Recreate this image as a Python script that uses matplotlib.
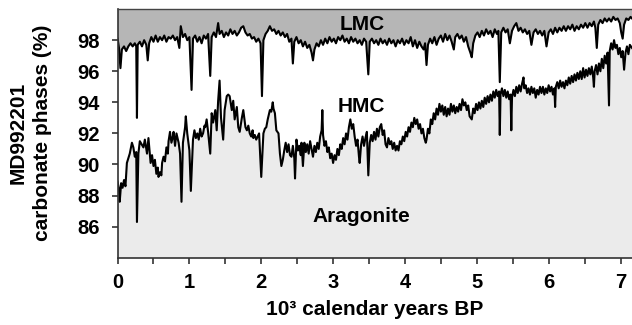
import matplotlib
matplotlib.use("Agg")
import matplotlib.pyplot as plt
from matplotlib.ticker import MultipleLocator

plt.rcParams["font.family"] = ["Liberation Sans", "DejaVu Sans"]
plt.rcParams["font.weight"] = "bold"

# --- LMC / HMC boundary (top line) -----------------------------------------
lmc_x = [0.00, 0.02, 0.04, 0.06, 0.09, 0.12, 0.15, 0.18, 0.21, 0.24, 0.26, 0.27,
         0.28, 0.31, 0.34, 0.37, 0.40, 0.42, 0.44, 0.47, 0.50, 0.53, 0.56, 0.59,
         0.62, 0.65, 0.68, 0.71, 0.74, 0.77, 0.80, 0.83, 0.86, 0.88, 0.91, 0.94,
         0.97, 1.00, 1.03, 1.05, 1.08, 1.11, 1.14, 1.17, 1.20, 1.23, 1.26, 1.29,
         1.31, 1.34, 1.37, 1.40, 1.42, 1.45, 1.48, 1.51, 1.54, 1.57, 1.60, 1.63,
         1.66, 1.69, 1.72, 1.75, 1.78, 1.81, 1.84, 1.87, 1.90, 1.93, 1.96, 1.99,
         2.01, 2.03, 2.06, 2.09, 2.12, 2.15, 2.18, 2.21, 2.24, 2.27, 2.30, 2.33,
         2.36, 2.39, 2.42, 2.44, 2.46, 2.49, 2.52, 2.55, 2.58, 2.61, 2.64, 2.67,
         2.70, 2.72, 2.74, 2.77, 2.80, 2.83, 2.86, 2.89, 2.92, 2.95, 2.98, 3.01,
         3.04, 3.07, 3.10, 3.13, 3.16, 3.19, 3.22, 3.25, 3.28, 3.31, 3.34, 3.37,
         3.40, 3.43, 3.46, 3.49, 3.51, 3.54, 3.57, 3.60, 3.63, 3.66, 3.69, 3.72,
         3.75, 3.78, 3.81, 3.84, 3.87, 3.90, 3.93, 3.96, 3.99, 4.02, 4.05, 4.08,
         4.11, 4.14, 4.17, 4.20, 4.23, 4.26, 4.28, 4.30, 4.32, 4.35, 4.38, 4.41,
         4.44, 4.47, 4.50, 4.53, 4.56, 4.59, 4.62, 4.65, 4.68, 4.70, 4.73, 4.76,
         4.79, 4.82, 4.85, 4.88, 4.91, 4.93, 4.95, 4.98, 5.01, 5.04, 5.07, 5.10,
         5.13, 5.16, 5.19, 5.22, 5.25, 5.28, 5.30, 5.32, 5.34, 5.37, 5.40, 5.43,
         5.46, 5.49, 5.52, 5.55, 5.58, 5.61, 5.64, 5.67, 5.70, 5.73, 5.76, 5.79,
         5.82, 5.85, 5.88, 5.91, 5.94, 5.97, 6.00, 6.03, 6.06, 6.09, 6.12, 6.15,
         6.18, 6.21, 6.24, 6.27, 6.30, 6.33, 6.36, 6.39, 6.42, 6.45, 6.48, 6.51,
         6.54, 6.57, 6.60, 6.63, 6.65, 6.67, 6.69, 6.72, 6.75, 6.78, 6.81, 6.84,
         6.87, 6.90, 6.93, 6.96, 6.99, 7.01, 7.03, 7.05, 7.08, 7.11, 7.14, 7.16]
lmc_y = [98.1, 97.5, 96.2, 97.4, 97.6, 97.3, 97.6, 97.8, 97.6, 97.8, 97.6, 93.0,
         97.7, 97.9, 97.6, 98.0, 97.7, 96.7, 97.8, 98.2, 97.9, 98.3, 97.9, 98.2,
         98.0, 98.3, 97.9, 98.2, 98.1, 98.3, 98.0, 98.2, 97.5, 98.9, 98.2, 98.4,
         98.0, 98.2, 94.8, 98.1, 98.3, 97.9, 98.2, 97.8, 98.3, 98.1, 98.4, 95.7,
         98.2, 98.5, 98.2, 99.1, 98.4, 98.6, 98.2, 98.5, 98.3, 98.7, 98.4, 98.6,
         98.3, 98.5, 98.8, 98.9, 98.5, 98.3, 98.4, 98.1, 98.2, 97.9, 98.1, 97.8,
         94.4, 98.0, 98.4, 98.6, 98.9, 98.6, 98.7, 98.4, 98.6, 98.3, 98.5, 98.2,
         98.4, 97.9, 98.1, 96.5, 97.9, 98.2, 97.8, 98.0, 97.6, 97.9, 97.5, 97.7,
         97.2, 96.7, 97.4, 97.8, 97.6, 98.0, 97.7, 98.1, 97.8, 98.2, 97.9, 98.1,
         97.8, 98.2, 98.0, 98.3, 97.9, 98.1, 97.8, 98.2, 97.9, 98.1, 97.8, 98.0,
         97.7, 98.1, 97.9, 95.8, 97.9, 98.1, 97.8, 98.0, 97.7, 98.1, 97.8, 98.0,
         97.7, 98.1, 97.8, 98.0, 97.6, 98.0, 97.8, 98.1, 97.7, 98.0, 97.8, 98.2,
         97.6, 98.0, 97.5, 97.9, 97.6, 97.4, 97.8, 96.4, 97.7, 98.1, 97.8, 98.2,
         97.7, 98.1, 98.3, 97.9, 98.4, 98.0, 98.3, 97.9, 97.4, 98.2, 98.4, 98.1,
         98.3, 97.9, 98.2, 97.6, 97.2, 96.9, 97.8, 98.3, 98.5, 98.2, 98.6, 98.3,
         98.7, 98.4, 98.6, 98.2, 98.7, 98.4, 98.6, 95.3, 98.5, 98.8, 98.5, 98.7,
         97.8, 98.6, 98.9, 99.1, 98.6, 98.8, 98.5, 98.7, 98.4, 98.6, 97.7, 98.5,
         98.7, 98.4, 98.6, 98.3, 98.6, 97.6, 98.5, 98.7, 98.4, 98.8, 98.5, 98.8,
         98.6, 98.9, 98.6, 98.9, 98.7, 99.0, 98.6, 98.9, 98.7, 99.0, 98.8, 99.1,
         98.8, 99.1, 98.9, 99.2, 98.8, 97.5, 99.0, 99.3, 99.1, 99.4, 99.2, 99.4,
         99.2, 99.5, 99.3, 99.4, 99.1, 98.5, 98.1, 99.0, 99.4, 99.3, 99.5, 99.4]

# --- HMC / Aragonite boundary (lower line) ---------------------------------
hmc_x = [0.00, 0.02, 0.03, 0.05, 0.07, 0.09, 0.11, 0.13, 0.17, 0.20, 0.22, 0.24,
         0.26, 0.27, 0.29, 0.31, 0.36, 0.38, 0.41, 0.43, 0.45, 0.46, 0.48, 0.50,
         0.52, 0.54, 0.56, 0.57, 0.59, 0.61, 0.62, 0.64, 0.66, 0.68, 0.70, 0.71,
         0.73, 0.75, 0.77, 0.78, 0.80, 0.82, 0.84, 0.85, 0.87, 0.89, 0.91, 0.94,
         0.95, 0.97, 1.00, 1.02, 1.05, 1.07, 1.09, 1.11, 1.13, 1.15, 1.17, 1.19,
         1.21, 1.22, 1.24, 1.26, 1.29, 1.31, 1.33, 1.36, 1.38, 1.40, 1.42, 1.44,
         1.47, 1.49, 1.52, 1.54, 1.56, 1.59, 1.61, 1.63, 1.66, 1.68, 1.70, 1.72,
         1.73, 1.75, 1.77, 1.78, 1.80, 1.82, 1.84, 1.86, 1.88, 1.89, 1.91, 1.93,
         1.95, 1.97, 2.00, 2.03, 2.05, 2.07, 2.09, 2.12, 2.14, 2.16, 2.17, 2.19,
         2.21, 2.24, 2.26, 2.28, 2.30, 2.32, 2.34, 2.36, 2.38, 2.40, 2.42, 2.44,
         2.46, 2.47, 2.49, 2.51, 2.53, 2.55, 2.56, 2.58, 2.60, 2.62, 2.64, 2.66,
         2.68, 2.70, 2.72, 2.74, 2.76, 2.78, 2.80, 2.82, 2.84, 2.85, 2.86, 2.88,
         2.90, 2.92, 2.94, 2.96, 2.98, 3.00, 3.02, 3.04, 3.06, 3.08, 3.10, 3.12,
         3.14, 3.16, 3.18, 3.20, 3.22, 3.24, 3.26, 3.28, 3.30, 3.32, 3.34, 3.36,
         3.37, 3.39, 3.41, 3.43, 3.45, 3.47, 3.49, 3.51, 3.53, 3.55, 3.57, 3.59,
         3.61, 3.63, 3.65, 3.67, 3.69, 3.71, 3.73, 3.75, 3.77, 3.79, 3.81, 3.83,
         3.85, 3.87, 3.89, 3.91, 3.93, 3.95, 3.97, 3.99, 4.01, 4.03, 4.05, 4.07,
         4.09, 4.11, 4.13, 4.15, 4.17, 4.19, 4.21, 4.23, 4.25, 4.27, 4.29, 4.30,
         4.32, 4.34, 4.36, 4.38, 4.40, 4.42, 4.44, 4.46, 4.48, 4.50, 4.52, 4.54,
         4.56, 4.58, 4.60, 4.62, 4.64, 4.66, 4.68, 4.70, 4.72, 4.74, 4.76, 4.78,
         4.80, 4.82, 4.84, 4.86, 4.88, 4.90, 4.93, 4.95, 4.97, 4.99, 5.01, 5.03,
         5.05, 5.07, 5.09, 5.11, 5.13, 5.15, 5.17, 5.19, 5.21, 5.23, 5.25, 5.27,
         5.29, 5.31, 5.32, 5.33, 5.35, 5.37, 5.39, 5.41, 5.43, 5.45, 5.47, 5.48,
         5.49, 5.51, 5.53, 5.55, 5.57, 5.59, 5.61, 5.63, 5.65, 5.66, 5.68, 5.70,
         5.72, 5.74, 5.76, 5.78, 5.80, 5.82, 5.84, 5.86, 5.88, 5.90, 5.92, 5.94,
         5.96, 5.98, 6.00, 6.02, 6.04, 6.06, 6.08, 6.09, 6.10, 6.12, 6.14, 6.16,
         6.18, 6.20, 6.22, 6.24, 6.26, 6.28, 6.30, 6.32, 6.34, 6.36, 6.38, 6.40,
         6.42, 6.44, 6.46, 6.48, 6.50, 6.52, 6.54, 6.56, 6.58, 6.60, 6.62, 6.63,
         6.64, 6.66, 6.68, 6.70, 6.72, 6.74, 6.76, 6.78, 6.80, 6.82, 6.84, 6.85,
         6.87, 6.89, 6.91, 6.93, 6.95, 6.97, 6.99, 7.01, 7.03, 7.05, 7.07, 7.09,
         7.11, 7.13, 7.16]
hmc_y = [88.9, 88.4, 87.6, 88.8, 88.5, 89.0, 88.6, 90.1, 90.7, 91.4, 91.1, 90.5,
         90.8, 86.3, 90.7, 91.5, 91.1, 91.6, 90.7, 91.7, 90.6, 90.1, 90.6, 89.9,
         90.3, 89.4, 89.8, 89.2, 89.5, 89.3, 90.1, 90.5, 90.2, 91.1, 90.7, 91.5,
         92.1, 91.4, 91.8, 92.1, 91.2, 92.0, 91.6, 91.4, 90.7, 87.6, 91.4, 92.4,
         93.1, 92.0, 90.9, 88.3, 91.6, 92.2, 91.7, 92.0, 91.6, 92.3, 91.8, 92.0,
         92.5, 92.4, 92.9, 92.1, 90.7, 93.3, 92.7, 93.5, 92.2, 94.1, 95.4, 93.0,
         91.6, 93.5, 94.4, 94.5, 94.4, 93.5, 94.1, 92.9, 93.7, 92.4, 92.1, 92.7,
         93.0, 93.5, 92.8, 92.4, 92.2, 92.5, 92.0, 91.8, 92.2, 91.7, 91.9, 91.6,
         91.8, 92.0, 89.2, 92.0, 92.3, 92.4, 92.9, 93.5, 93.4, 94.0, 93.6, 93.3,
         92.2, 92.0, 90.7, 89.9, 90.3, 90.9, 91.4, 90.8, 91.3, 90.6, 90.5, 91.2,
         90.4, 89.1, 91.6, 90.9, 91.2, 90.6, 91.4, 89.9, 91.4, 90.8, 91.3, 90.7,
         91.5, 91.0, 90.5, 91.2, 90.8, 91.4, 91.0, 91.8, 92.2, 93.5, 91.9, 91.2,
         91.5, 90.8, 91.1, 90.4, 90.7, 90.1, 90.6, 90.3, 91.0, 90.6, 91.3, 91.0,
         91.7, 91.3, 92.0, 91.6, 92.4, 92.9, 92.3, 92.6, 91.8, 91.2, 91.6, 90.5,
         90.1, 91.3, 91.8, 91.2, 91.7, 92.1, 89.3, 91.4, 91.9, 91.5, 92.1, 91.6,
         92.3, 91.8, 92.4, 92.6, 91.9, 92.2, 91.3, 91.1, 91.7, 91.3, 91.5, 91.0,
         91.4, 90.9, 91.2, 90.9, 91.5, 91.3, 91.8, 91.5, 92.1, 91.8, 92.4, 92.1,
         92.7, 92.4, 93.0, 92.6, 92.9, 92.3, 92.6, 92.0, 92.3, 91.7, 91.4, 91.6,
         92.3, 92.0, 92.9, 92.6, 93.3, 92.9, 93.6, 93.2, 93.9, 93.4, 93.8, 93.2,
         93.7, 93.1, 93.6, 93.2, 93.9, 93.4, 93.8, 93.3, 93.7, 93.4, 93.9, 93.5,
         94.2, 93.8, 94.0, 93.5, 93.8, 93.1, 92.9, 93.6, 93.3, 93.9, 93.5, 94.0,
         93.6, 94.1, 93.7, 94.3, 93.9, 94.4, 94.0, 94.5, 94.1, 94.7, 94.3, 94.8,
         94.4, 94.7, 91.9, 94.5, 94.9, 94.4, 94.8, 94.3, 94.7, 94.2, 94.5, 92.2,
         94.3, 94.8, 94.4, 95.0, 94.6, 95.1, 94.7, 95.2, 95.6, 94.9, 95.1, 94.6,
         94.9, 94.5, 95.0, 94.6, 94.9, 94.3, 94.8, 94.5, 95.0, 94.6, 95.0, 94.5,
         94.9, 94.6, 95.1, 94.7, 95.0, 94.5, 94.9, 93.7, 95.0, 95.3, 94.9, 95.4,
         95.0, 95.3, 94.9, 95.4, 95.1, 95.6, 95.2, 95.7, 95.3, 95.8, 95.4, 95.9,
         95.5, 96.0, 95.5, 96.2, 95.6, 96.1, 95.7, 96.2, 95.8, 96.3, 95.6, 95.0,
         96.0, 96.4, 95.8, 96.5, 96.0, 96.8, 96.2, 97.0, 96.5, 97.2, 93.8, 97.3,
         97.8, 97.4, 98.0, 97.5, 97.7, 97.1, 97.5, 96.9, 97.3, 96.1, 97.2, 97.6,
         97.1, 97.7, 97.5]

y_ticks = [86, 88, 90, 92, 94, 96, 98]
x_ticks = [0, 1, 2, 3, 4, 5, 6, 7]
phase_labels = ["LMC", "HMC", "Aragonite"]

fig = plt.figure(figsize=(6.32, 3.25), dpi=100)
ax = fig.add_axes([0.186, 0.207, 0.814, 0.765])

# shaded phase areas
ax.fill_between(lmc_x, lmc_y, 100, color="#b6b6b6", linewidth=0)
ax.fill_between(hmc_x, 84, hmc_y, color="#ebebeb", linewidth=0)
ax.plot(lmc_x, lmc_y, color="black", linewidth=1.5)
ax.plot(hmc_x, hmc_y, color="black", linewidth=1.5)

ax.set_xlim(0, 7.16)
ax.set_ylim(84, 100)

for name, (tx, ty) in zip(phase_labels, [(3.40, 98.65), (3.40, 93.40), (3.40, 86.32)]):
    ax.text(tx, ty, name, ha="center", va="baseline", fontsize=15, fontweight="bold")

ax.set_xticks(x_ticks)
ax.xaxis.set_minor_locator(MultipleLocator(0.5))
ax.set_yticks(y_ticks)
ax.tick_params(axis="both", which="both", direction="out", length=4, width=1.2,
               labelsize=14.5, color="#333333")
ax.tick_params(axis="x", pad=7)
ax.tick_params(axis="y", pad=9)

for side in ["left", "bottom"]:
    ax.spines[side].set_linewidth(1.2)
    ax.spines[side].set_color("#333333")
ax.spines["top"].set_linewidth(1.0)
ax.spines["top"].set_color("#444444")
ax.spines["right"].set_visible(False)

ax.set_xlabel("10³ calendar years BP", fontsize=15, fontweight="bold", labelpad=6)
fig.text(0.048, 0.59, "MD992201\ncarbonate phases (%)", rotation=90,
         ha="center", va="center", fontsize=15, fontweight="bold", linespacing=1.4)

fig.savefig("out.png", dpi=100)
